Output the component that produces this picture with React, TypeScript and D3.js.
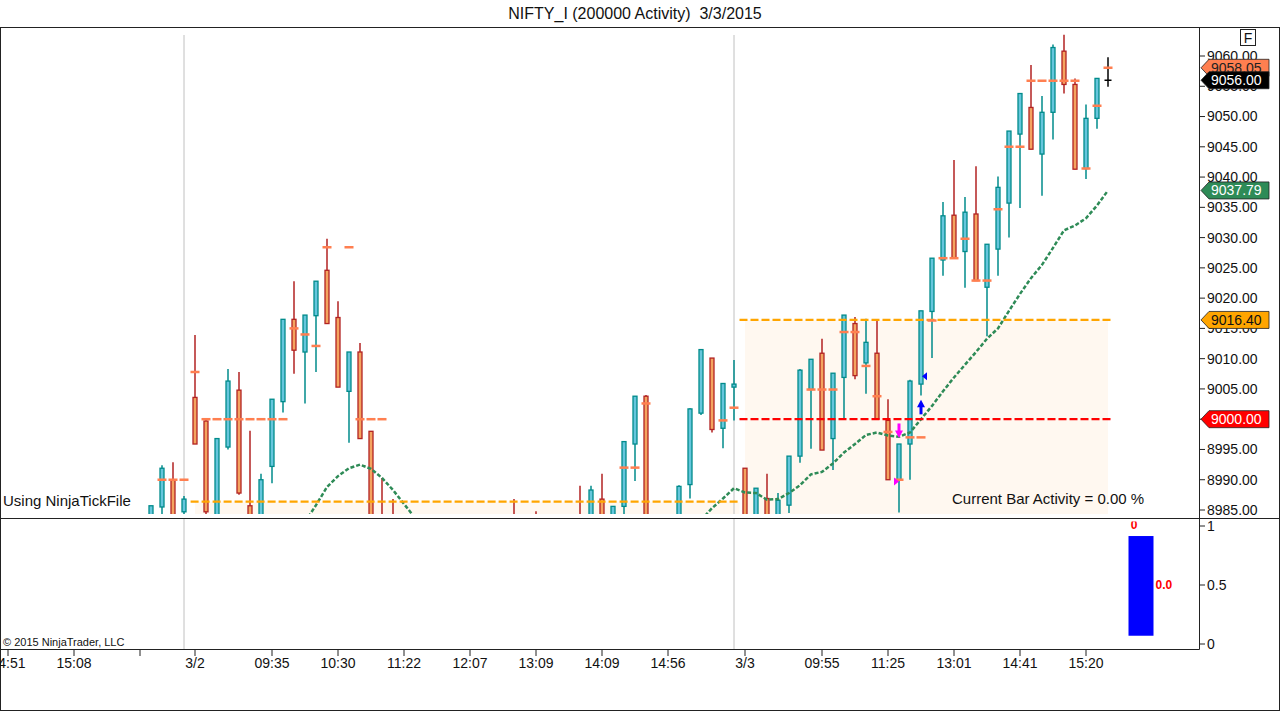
import * as d3 from "d3";

// --- данные баров (O/H/L/C), по одному значению на бар ---
const opens = [
  8980.0, 8985.5, 8990.0, 8984.7, 9003.6, 8999.7, 8980.0, 8995.4, 9004.8, 8985.7,
  8981.0, 8992.2, 9002.9, 9016.5, 9011.1, 9017.1, 9024.6, 9016.8, 9004.6, 9011.1,
  8998.0, 8982.0, 8981.0, 8975.0, 8971.0, 8974.0, 8978.0, 8975.0, 8977.0, 8973.0,
  8976.0, 8979.0, 8977.0, 8981.0, 8978.0, 8982.0, 8979.0, 8981.0, 8982.0, 8982.5,
  8981.0, 8986.8, 8979.0, 8985.6, 8995.9, 9003.8, 8978.0, 8974.0, 8980.0, 8989.2,
  9001.0, 9010.1, 8998.5, 9005.3, 8991.9, 8981.0, 8986.9, 8982.0, 8985.8, 8993.9,
  9004.9, 9010.9, 8996.8, 9006.9, 9015.8, 9009.3, 9010.9, 8999.8, 8990.0, 8995.9,
  9005.8, 9017.8, 9026.3, 9033.7, 9027.7, 9033.9, 9021.8, 9028.1, 9035.7, 9047.1,
  9051.5, 9043.8, 9050.7, 9060.8, 9055.3, 9041.4, 9049.7, 9056.0,
];
const highs = [
  8985.7, 8992.4, 8992.9, 8987.3, 9013.9, 9000.1, 8996.8, 9008.3, 9007.8, 8998.1,
  8991.0, 9003.3, 9016.5, 9022.8, 9017.2, 9022.8, 9029.8, 9019.5, 9011.1, 9012.6,
  8998.0, 8990.3, 8986.8, 8978.0, 8977.0, 8980.0, 8981.0, 8979.0, 8980.0, 8978.0,
  8981.0, 8982.0, 8982.0, 8986.8, 8983.0, 8984.8, 8983.0, 8983.5, 8983.5, 8989.0,
  8989.0, 8991.0, 8985.6, 8996.3, 9003.8, 9004.0, 8982.0, 8982.0, 8989.1, 9001.8,
  9011.5, 9010.1, 9005.9, 9009.8, 8991.9, 8988.6, 8991.0, 8987.8, 8993.9, 9008.3,
  9009.9, 9013.3, 9007.6, 9017.2, 9016.9, 9016.6, 9016.3, 9003.3, 8995.9, 9006.5,
  9017.9, 9026.6, 9035.9, 9042.8, 9036.7, 9041.8, 9028.9, 9040.1, 9047.6, 9053.8,
  9058.5, 9053.4, 9061.9, 9063.5, 9056.3, 9052.0, 9056.3, 9059.8,
];
const lows = [
  8978.0, 8982.0, 8978.0, 8983.5, 8995.9, 8984.0, 8978.0, 8995.0, 8987.5, 8978.0,
  8979.0, 8989.4, 9001.1, 9007.5, 9002.6, 9007.8, 9015.8, 9005.3, 8996.1, 8996.8,
  8976.0, 8974.0, 8972.0, 8970.0, 8969.0, 8972.0, 8973.0, 8972.0, 8971.0, 8970.0,
  8974.0, 8975.0, 8975.0, 8976.0, 8975.0, 8977.0, 8976.0, 8978.0, 8977.0, 8978.0,
  8979.0, 8977.0, 8977.0, 8982.0, 8989.8, 8976.0, 8972.0, 8972.0, 8978.0, 8986.9,
  9000.7, 8997.8, 8995.2, 8999.8, 8978.0, 8979.0, 8979.0, 8980.0, 8984.5, 8992.8,
  8995.1, 8994.9, 8991.6, 9000.0, 9006.6, 9004.2, 9000.0, 8990.0, 8984.6, 8990.0,
  9003.9, 9010.1, 9023.7, 9026.6, 9021.7, 9022.9, 9013.7, 9023.7, 9030.0, 9034.9,
  9044.6, 9036.9, 9046.2, 9053.8, 9041.3, 9039.7, 9048.0, 9054.9,
];
const closes = [
  8985.7, 8991.9, 8980.0, 8986.8, 8995.9, 8984.7, 8996.8, 9006.3, 8987.8, 8980.0,
  8990.0, 9003.3, 9016.5, 9011.4, 9017.2, 9022.8, 9015.8, 9005.3, 9011.1, 8996.8,
  8978.0, 8976.0, 8974.0, 8972.0, 8975.0, 8978.0, 8975.0, 8977.0, 8973.0, 8976.0,
  8979.0, 8977.0, 8980.0, 8978.0, 8981.0, 8979.0, 8981.0, 8982.0, 8979.0, 8980.0,
  8988.3, 8979.0, 8985.6, 8996.3, 9003.8, 8978.0, 8974.0, 8980.0, 8988.9, 9001.7,
  9011.5, 8998.3, 9005.9, 9005.8, 8980.0, 8988.6, 8981.0, 8986.6, 8993.9, 9008.1,
  9009.9, 8994.9, 9007.6, 9017.2, 9007.2, 9012.7, 9000.0, 8990.0, 8995.9, 9006.3,
  9017.9, 9026.6, 9033.6, 9026.6, 9034.2, 9022.9, 9028.9, 9038.3, 9047.6, 9053.8,
  9044.6, 9050.7, 9061.4, 9055.3, 9041.3, 9049.7, 9056.3, 9056.0,
];

// коралловые отметки на барах (null — нет отметки)
const markers: (number | null)[] = [
  null, 8990.0, 8990.0, 8990.0, 9007.8, 9000.0, 9000.0, 9000.0, 9000.0, 9000.0,
  9000.0, 9000.0, 9000.0, 9015.0, 9014.0, 9012.1, 9028.4, null, 9028.4, 9000.0,
  9000.0, 9000.0, null, null, null, null, null, null, null, null,
  null, null, null, null, null, null, null, null, null, null,
  null, null, null, 8992.0, 8992.0, 9002.6, null, null, null, null,
  null, null, 8999.8, 9001.9, null, null, null, null, null, null,
  9004.9, 9004.9, 9004.9, 9014.4, 9014.4, 9008.8, 9003.8, 8997.9, 8990.0, 8997.0,
  8997.0, 9016.3, 9026.6, 9026.6, 9029.8, 9022.9, 9022.9, 9034.7, 9045.0, 9045.0,
  9055.9, 9055.9, 9055.9, 9055.9, 9055.9, 9041.4, 9051.8, 9058.05,
];

// зелёная скользящая (только видимые участки)
const maValues: (number | null)[] = [
  null, null, null, null, null, null, null, null, null, null,
  null, null, null, null, 8983.0, 8985.8, 8988.8, 8990.6, 8991.9, 8992.5,
  8991.8, 8990.3, 8988.3, 8986.0, 8983.7, null, null, null, null, null,
  null, null, null, null, null, null, null, null, null, null,
  null, null, null, null, null, null, null, null, null, null,
  8983.3, 8985.3, 8986.9, 8988.6, 8987.9, 8987.8, 8986.7, 8986.8, 8987.8, 8989.1,
  8990.9, 8991.3, 8992.7, 8994.5, 8995.9, 8997.4, 8997.8, 8997.3, 8997.1, 8997.8,
  9000.0, 9002.2, 9004.6, 9006.9, 9009.0, 9011.1, 9013.3, 9015.0, 9017.9, 9020.7,
  9023.3, 9025.5, 9028.3, 9031.2, 9032.0, 9033.2, 9035.3, 9037.79,
];

// горизонтальные уровни
const levelPrices = [8986.4, 9016.4, 9000.0];
const levelFrom = [3.6, 53.5, 53.5];
const levelTo = [53.5, 87.4, 87.4];
const levelKinds = ["orange", "orange", "red"];

// зоны (дневной диапазон)
const boxFrom = [4, 54];
const boxTo = [53.5, 87];
const boxTop = [8986.4, 9016.4];
const boxBottom = [8970, 8970];

// сигналы
const signalBars = [68, 70, 70, 68];
const signalPrices = [8996.9, 9003.2, 9007.1, 8989.7];
const signalKinds = ["arrowDown", "arrowUp", "triLeft", "triRight"];

const sessionBreaks = [3, 53];

const xTickBars = [-13, -7, -1, 4, 11, 17, 23, 29, 35, 41, 47, 54, 61, 67, 73, 79, 85];
const xTickLabels = [
  "14:51", "15:08", "", "3/2", "09:35", "10:30", "11:22", "12:07", "13:09",
  "14:09", "14:56", "3/3", "09:55", "11:25", "13:01", "14:41", "15:20",
];

const priceTicks = [
  8985, 8990, 8995, 9000, 9005, 9010, 9015, 9020, 9025, 9030, 9035, 9040, 9045,
  9050, 9055, 9060,
];
const panelTicks = [0, 0.5, 1];

const tagValues = [9058.05, 9056.0, 9037.79, 9016.4, 9000.0];
const tagKinds = ["coral", "black", "green", "orange", "red"];

const activityBar = 90;
const activityLow = 0.07;
const activityHigh = 0.915;

// --- стили ---
const FONT = '"Liberation Sans", Arial, sans-serif';
const COLORS = {
  upFill: "#66C6DC",
  upLine: "#008B8B",
  downFill: "#F4A460",
  downLine: "#B22222",
  marker: "#FF7F50",
  ma: "#2E8B57",
  orange: "#FFA500",
  red: "#FF0000",
  box: "#FFF8F0",
  session: "#C0C0C0",
  frame: "#222",
  text: "#111",
};
const TAG_STYLE: Record<string, { fill: string; text: string }> = {
  coral: { fill: "#FF7F50", text: "#222" },
  black: { fill: "#000000", text: "#FFFFFF" },
  green: { fill: "#2E8B57", text: "#FFFFFF" },
  orange: { fill: "#FFA500", text: "#111" },
  red: { fill: "#FF0000", text: "#FFFFFF" },
};

const AXIS_X = 1199.5;
const MAIN = { top: 28, bottom: 514 };
const SEP_Y = 518.5;
const XAXIS_Y = 649.5;

export default function App() {
  const n = opens.length;
  const x = d3.scaleLinear().domain([0, n - 1]).range([151, 1108]);
  const y = d3.scaleLinear().domain([8985, 9060]).range([510, 56]);
  const y2 = d3.scaleLinear().domain([0, 1]).range([644, 526]);

  const maLine = d3
    .line<number | null>()
    .defined((v) => v !== null)
    .x((_, i) => x(i))
    .y((v) => y(v as number));

  const candles = opens.map((o, i) => {
    const c = closes[i];
    const cx = x(i);
    if (o === c) {
      return (
        <g key={i} stroke="#000" strokeWidth={1.5}>
          <line x1={cx} x2={cx} y1={y(highs[i])} y2={y(lows[i])} />
          <line x1={cx - 3.5} x2={cx + 3.5} y1={y(c)} y2={y(c)} />
        </g>
      );
    }
    const up = c > o;
    const line = up ? COLORS.upLine : COLORS.downLine;
    const top = y(Math.max(o, c));
    const bot = y(Math.min(o, c));
    return (
      <g key={i}>
        <line x1={cx} x2={cx} y1={y(highs[i])} y2={y(lows[i])} stroke={line} strokeWidth={1.5} />
        <rect
          x={cx - 2}
          y={top}
          width={4}
          height={Math.max(1, bot - top)}
          fill={up ? COLORS.upFill : COLORS.downFill}
          stroke={line}
          strokeWidth={1.3}
        />
      </g>
    );
  });

  const signals = signalBars.map((b, i) => {
    const cx = x(b);
    const ty = y(signalPrices[i]);
    const kind = signalKinds[i];
    if (kind === "arrowDown") {
      return (
        <g key={i} fill="#FF00FF">
          <rect x={cx - 1.5} y={ty - 14.5} width={3} height={8} />
          <path d={`M${cx - 4},${ty - 7.5}L${cx + 4},${ty - 7.5}L${cx},${ty}Z`} />
        </g>
      );
    }
    if (kind === "arrowUp") {
      return (
        <g key={i} fill="#0000FF">
          <rect x={cx - 1.5} y={ty + 6.5} width={3} height={8} />
          <path d={`M${cx - 4},${ty + 7.5}L${cx + 4},${ty + 7.5}L${cx},${ty}Z`} />
        </g>
      );
    }
    if (kind === "triLeft") {
      return (
        <path key={i} fill="#0000FF" d={`M${cx + 1},${ty}L${cx + 6},${ty - 4}L${cx + 6},${ty + 4}Z`} />
      );
    }
    return (
      <path key={i} fill="#FF00FF" d={`M${cx},${ty}L${cx - 5},${ty - 4}L${cx - 5},${ty + 4}Z`} />
    );
  });

  const tagPath = (cy: number) =>
    `M1201,${cy}L1209,${cy - 8.5}L1269,${cy - 8.5}L1269,${cy + 8.5}L1209,${cy + 8.5}Z`;

  return (
    <svg
      width={1280}
      height={711}
      style={{ position: "absolute", left: 0, top: 0, background: "#fff" }}
      fontFamily={FONT}
    >
      <defs>
        <clipPath id="mainClip">
          <rect x={0} y={MAIN.top} width={AXIS_X} height={MAIN.bottom - MAIN.top} />
        </clipPath>
        <clipPath id="panelClip">
          <rect x={0} y={521.5} width={AXIS_X} height={XAXIS_Y - 521.5} />
        </clipPath>
        <clipPath id="axisClip">
          <rect x={0} y={650} width={AXIS_X} height={60} />
        </clipPath>
      </defs>

      <text
        x={635}
        y={19}
        fontSize={16}
        textAnchor="middle"
        fill={COLORS.text}
        style={{ whiteSpace: "pre" }}
      >
        {"NIFTY_I (200000 Activity)  3/3/2015"}
      </text>

      {/* главная панель */}
      <g clipPath="url(#mainClip)">
        {boxFrom.map((b, i) => (
          <rect
            key={i}
            x={x(b)}
            y={y(boxTop[i])}
            width={x(boxTo[i]) - x(b)}
            height={y(boxBottom[i]) - y(boxTop[i])}
            fill={COLORS.box}
          />
        ))}
        {sessionBreaks.map((b) => (
          <line key={b} x1={x(b)} x2={x(b)} y1={35} y2={MAIN.bottom} stroke={COLORS.session} />
        ))}
        {candles}
        <path
          d={maLine(maValues) ?? ""}
          fill="none"
          stroke={COLORS.ma}
          strokeWidth={2.5}
          strokeDasharray="4,2"
        />
        {levelPrices.map((p, i) => (
          <line
            key={i}
            x1={x(levelFrom[i])}
            x2={x(levelTo[i])}
            y1={y(p)}
            y2={y(p)}
            stroke={levelKinds[i] === "red" ? COLORS.red : COLORS.orange}
            strokeWidth={2.2}
            strokeDasharray="8,3"
          />
        ))}
        {markers.map((m, i) =>
          m === null ? null : (
            <line
              key={i}
              x1={x(i) - 4.5}
              x2={x(i) + 4.5}
              y1={y(m)}
              y2={y(m)}
              stroke={COLORS.marker}
              strokeWidth={2.5}
            />
          ),
        )}
        {signals}
        <text x={952} y={504} fontSize={15} fill={COLORS.text}>
          Current Bar Activity = 0.00 %
        </text>
        <text x={3} y={506} fontSize={15} fill={COLORS.text}>
          Using NinjaTickFile
        </text>
      </g>

      {/* нижняя панель */}
      {sessionBreaks.map((b) => (
        <line key={b} x1={x(b)} x2={x(b)} y1={SEP_Y} y2={XAXIS_Y} stroke={COLORS.session} />
      ))}
      <g clipPath="url(#panelClip)">
        <rect
          x={x(activityBar) - 12.5}
          y={y2(activityHigh)}
          width={25}
          height={y2(activityLow) - y2(activityHigh)}
          fill="#0000FF"
        />
        <text
          x={x(activityBar) - 7}
          y={y2(activityHigh) - 7}
          fontSize={12}
          fontWeight="bold"
          fill="#FF0000"
          textAnchor="middle"
        >
          0
        </text>
        <text
          x={x(activityBar) + 14.5}
          y={y2(0.5)}
          dy="0.35em"
          fontSize={12}
          fontWeight="bold"
          fill="#FF0000"
        >
          0.0
        </text>
      </g>
      <text x={3} y={646} fontSize={11} fill={COLORS.text}>
        © 2015 NinjaTrader, LLC
      </text>

      {/* рамки */}
      <rect x={0.5} y={27.5} width={1279} height={683} fill="none" stroke={COLORS.frame} />
      <line x1={0} x2={1280} y1={SEP_Y} y2={SEP_Y} stroke={COLORS.frame} />
      <line x1={0} x2={AXIS_X} y1={XAXIS_Y} y2={XAXIS_Y} stroke={COLORS.frame} />
      <line x1={AXIS_X} x2={AXIS_X} y1={27} y2={XAXIS_Y} stroke={COLORS.frame} />

      {/* ось цен */}
      {priceTicks.map((p) => (
        <g key={p}>
          <line x1={AXIS_X} x2={1205} y1={y(p)} y2={y(p)} stroke={COLORS.frame} />
          <text x={1207} y={y(p)} dy="0.35em" fontSize={14} fill={COLORS.text}>
            {p.toFixed(2)}
          </text>
        </g>
      ))}
      {panelTicks.map((v) => (
        <g key={v}>
          <line x1={AXIS_X} x2={1205} y1={y2(v)} y2={y2(v)} stroke={COLORS.frame} />
          <text x={1207} y={y2(v)} dy="0.35em" fontSize={14} fill={COLORS.text}>
            {v}
          </text>
        </g>
      ))}
      {tagValues.map((v, i) => {
        const st = TAG_STYLE[tagKinds[i]];
        const cy = y(v);
        return (
          <g key={v}>
            <path d={tagPath(cy)} fill={st.fill} stroke="#222" strokeWidth={0.8} />
            <text x={1211} y={cy} dy="0.36em" fontSize={14} fill={st.text}>
              {v.toFixed(2)}
            </text>
          </g>
        );
      })}

      {/* кнопка F */}
      <rect x={1240.5} y={29.5} width={15} height={16} fill="#fff" stroke={COLORS.frame} />
      <text x={1248} y={43} fontSize={14} textAnchor="middle" fill={COLORS.text}>
        F
      </text>

      {/* ось времени */}
      <g clipPath="url(#axisClip)">
        {xTickBars.map((b, i) => (
          <g key={b}>
            <line x1={x(b)} x2={x(b)} y1={XAXIS_Y} y2={656} stroke={COLORS.frame} />
            <text x={x(b)} y={668} fontSize={14} textAnchor="middle" fill={COLORS.text}>
              {xTickLabels[i]}
            </text>
          </g>
        ))}
      </g>
    </svg>
  );
}
